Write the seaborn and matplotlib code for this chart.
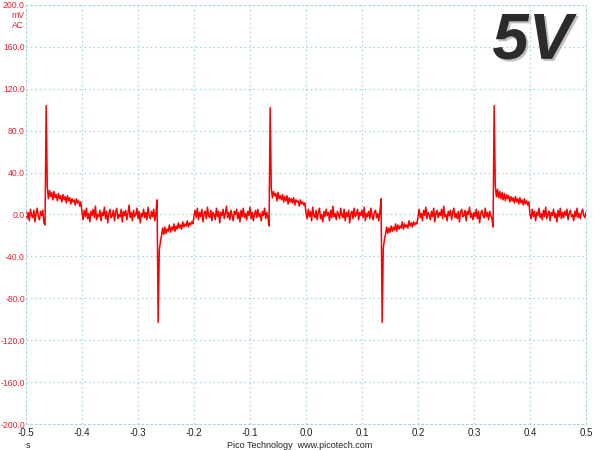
import numpy as np
import matplotlib
matplotlib.use("Agg")
import matplotlib.pyplot as plt
import matplotlib.patheffects as pe
import seaborn as sns

# Scope trace of the 5V rail (AC coupled, mV), one sample every 2 ms from -0.5 s
t_start = -0.5
sample_step = 0.002

base_a = [3, -4, 2, -6, 5, -1, -3, 4, -7, 1, 6, -2, -5, 3, -1, 4, -8, -10]
spike_1 = [104]
high_1 = [26, 15, 23, 17, 21, 14, 22, 16, 19, 13, 20, 15, 18, 12, 19, 14, 17, 11, 18, 13,
          16, 10, 15, 12, 14, 9, 15, 11, 13, 8, 12]
base_b = [2, -5, 4, -2, 6, -4, 1, -7, 3, -1, 5, -3, 8, -5, 0, -2, 4, -6, 2, -1,
          7, -4, 3, -8, 1, 5, -3, -1, 4, -6, 2, 6, -4, 0, -2, 5, -7, 3, -1, 4,
          -5, 1, 9, -3, 2, -6, 4, -2, 0, 6, -4, 3, -8, 1, -2, 5, -3, 2, -5, 7,
          -1, -4, 3, -2, 5, -6, 1, 14]
spike_2 = [-103]
low_1 = [-34, -26, -20, -13, -19, -12, -18, -14, -16, -10, -17, -12, -15, -9, -16, -11,
         -14, -8, -13, -10, -14, -7, -12, -9, -11, -6, -12, -8, -10, -7, -9]
base_c = [-1, 4, -3, 6, -5, 2, -2, 5, -7, 1, 3, -4, 7, -1, -3, 4, -6, 2, 0, -5,
          6, -2, 3, -8, 2, -1, 5, -4, 1, 8, -3, 2, -5, 4, -1, -6, 3, 0, 5, -4,
          2, -7, 4, -2, 6, -3, 1, -5, 3, -1, 7, -4, 2, -6, 0, 4, -3, 5, -2, 1,
          -6, 3, -1, 6, -4, 2, -3, -11]
spike_3 = [102]
high_2 = [25, 16, 22, 18, 20, 13, 21, 15, 18, 14, 19, 12, 17, 13, 18, 10, 16, 12, 15, 11,
          16, 9, 14, 12, 13, 8, 14, 10, 12, 9, 11]
base_d = [1, -4, 5, -2, 3, -6, 7, -1, -3, 4, -5, 2, 6, -4, 0, -7, 3, -2, 5, -1,
          2, -6, 4, -3, 8, -2, 1, -5, 3, 0, -4, 6, -1, -3, 5, -6, 2, -2, 4, -8,
          1, 3, -4, 6, -2, 0, 5, -5, 2, -1, 4, -3, 7, -6, 1, -2, 3, -4, 6, -1,
          -5, 2, 4, -3, 1, -6, 3, 15]
spike_4 = [-103]
low_2 = [-32, -24, -19, -12, -18, -13, -17, -11, -16, -12, -15, -9, -16, -10, -14, -11,
         -13, -7, -14, -9, -12, -10, -13, -6, -11, -8, -12, -7, -10, -8, -9]
base_e = [-2, 5, -3, 1, -6, 4, -1, 7, -4, 2, 0, -5, 3, -2, 6, -7, 1, 4, -3, 2,
          -1, 5, -4, 8, -2, 0, -6, 3, -1, 4, -5, 2, 6, -3, 1, -4, 3, -7, 2, 5,
          -2, -1, 4, -6, 3, 0, 7, -3, 1, -5, 2, -2, 5, -4, 3, -8, 1, 4, -1, -3,
          6, -2, 2, -5, 3, -1, -4, -12]
spike_5 = [104]
high_3 = [27, 17, 24, 16, 22, 15, 21, 14, 20, 13, 19, 15, 18, 12, 17, 13, 16, 11, 17, 12,
          15, 10, 16, 11, 14, 9, 15, 10, 13, 9, 12]
base_f = [0, -4, 5, -2, 3, -6, 2, -1, 6, -3, 1, -5, 4, -2, 7, -4, 0, 3, -6, 2,
          -1, 5, -3, 1, -7, 4, -2, 6, -4, 2, -3, 3, -1, 5, -5, 1, 4, -2, 0, -6,
          3, -2, 6, -3, 1, -4, 2, 5, -1, -3, 2]

x_ticks = [-0.5, -0.4, -0.3, -0.2, -0.1, 0.0, 0.1, 0.2, 0.3, 0.4, 0.5]
y_ticks = [-200, -160, -120, -80, -40, 0, 40, 80, 120, 160, 200]

trace_mv = (base_a + spike_1 + high_1 + base_b + spike_2 + low_1 + base_c + spike_3
            + high_2 + base_d + spike_4 + low_2 + base_e + spike_5 + high_3 + base_f)
times = t_start + sample_step * np.arange(len(trace_mv))

sns.set_style("white")
plt.rcParams['font.family'] = ['Liberation Sans', 'DejaVu Sans']

fig = plt.figure(figsize=(6, 4.5), dpi=100)
ax = fig.add_axes([26 / 600, 1 - 424 / 450, 560 / 600, 419 / 450])

sns.lineplot(x=times, y=trace_mv, ax=ax, color="#ff0000", linewidth=1.1,
             estimator=None, sort=False)

grid_col = "#a9d4de"
ax.set_xlim(-0.5, 0.5)
ax.set_ylim(-200, 200)
ax.set_xticks(x_ticks)
ax.set_yticks(y_ticks)
ax.set_xticklabels([f"{v:.1f}" for v in x_ticks], fontsize=7, color="#222222")
ax.set_yticklabels([f"{v:.1f}" for v in y_ticks], fontsize=6.2, color="#e8202a")
ax.tick_params(axis="y", length=0, pad=0.8)
ax.tick_params(axis="x", length=0, pad=3)
ax.grid(True, color=grid_col, linestyle=(0, (1.5, 2.5)), linewidth=0.8)
for s in ax.spines.values():
    s.set_color(grid_col)
    s.set_linestyle((0, (1.5, 2.5)))
    s.set_linewidth(0.8)
ax.set_xlabel("")
ax.set_ylabel("")

fig.text(24 / 600, 1 - 16 / 450, "mV", fontsize=6.2, color="#e8202a", ha="right", va="center")
fig.text(24 / 600, 1 - 25 / 450, "AC", fontsize=6.2, color="#e8202a", ha="right", va="center")
fig.text(28 / 600, 1 - 446 / 450, "s", fontsize=6.5, color="#222222", ha="center", va="center")
fig.text(300 / 600, 1 - 446 / 450, "Pico Technology  www.picotech.com", fontsize=6.5,
         color="#222222", ha="center", va="center")

big = ax.text(0.904, 0.912, "5V", transform=ax.transAxes, fontsize=47, fontweight="bold",
              fontstyle="italic", color="#2b2b2b", ha="center", va="center")
big.set_path_effects([pe.withSimplePatchShadow(offset=(1.5, -1.5), shadow_rgbFace="#999999", alpha=0.6)])

fig.savefig("out.png", dpi=100)
